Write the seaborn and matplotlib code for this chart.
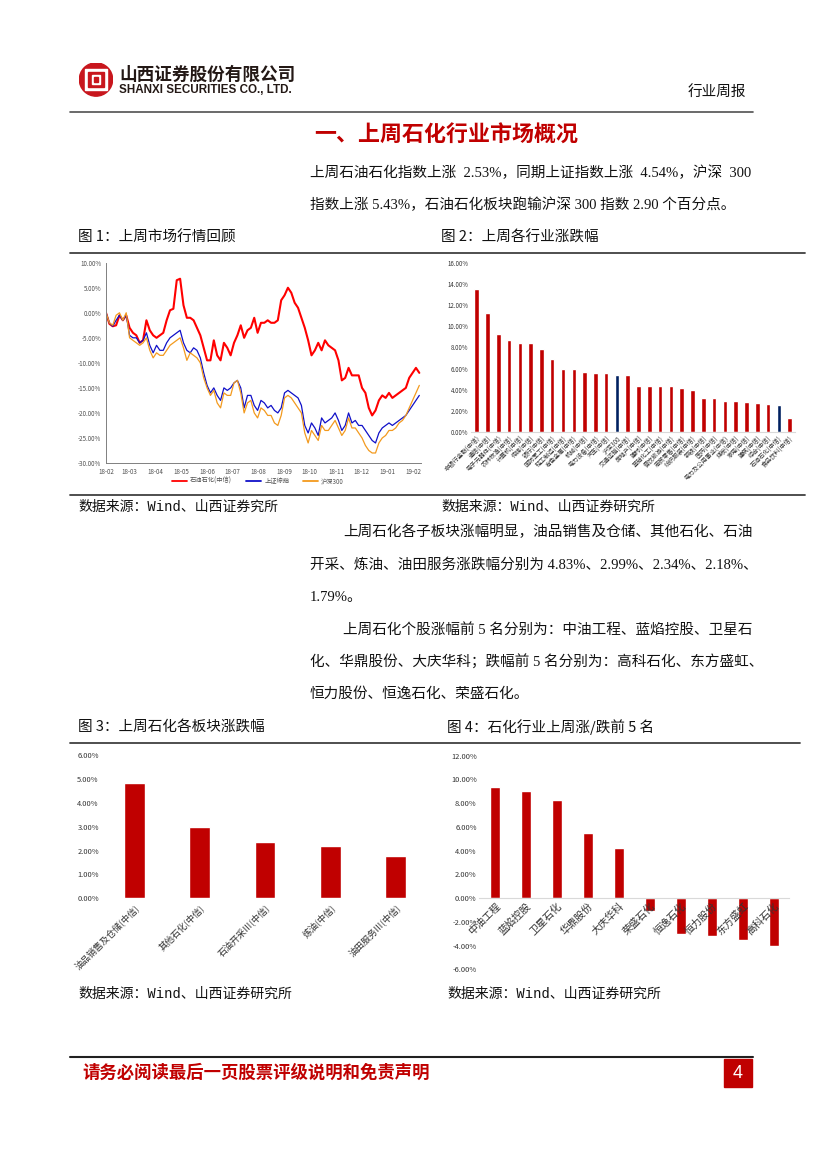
"""Shanxi Securities weekly report, page 4: petrochemical market overview."""
import numpy as np
import pandas as pd
import matplotlib
matplotlib.use("Agg")
import matplotlib.pyplot as plt
import matplotlib.dates as mdates
from matplotlib.ticker import FuncFormatter, MultipleLocator
from matplotlib.patches import Circle, Rectangle
from matplotlib.lines import Line2D
import seaborn as sns

# ---- figure 1: cumulative return since 2018-02 (%), sampled every 4 days
dates = pd.date_range("2018-02-01", periods=94, freq="4D")
petro = [0, -2.2, -2.7, -2.5, -0.5, -1.5, -0.5, -3, -4, -4.5,
         -6, -5.5, -1.5, -3.5, -4.5, -5, -4.5, -4, -1.5, 0.5,
         0.8, 6.5, 6.8, 1.5, -1, -1, -1.5, -3, -4.5, -7,
         -9.5, -9.5, -5.5, -8.5, -9.5, -6, -7, -8.5, -6, -4.5,
         -2.5, -5, -3.5, -3, -1, -4, -2, -2, -1.5, -2,
         -2, -1.5, 2.5, 3.5, 5, 4, 2, 1, -1, -3,
         -5.5, -8.5, -7.5, -6, -7.5, -5.5, -6.5, -7, -7.5, -9.5,
         -13.5, -13, -11, -12.5, -12.5, -12.5, -15, -16, -19, -20.5,
         -19.5, -17.5, -16.5, -17, -16, -17, -16.5, -16, -15.5, -15,
         -13, -12, -11, -12]
shci = [0, -2, -2.7, -1.5, -0.5, -1.5, -0.5, -4.5, -5, -5,
        -6, -5.5, -4, -6.5, -8, -6.5, -7.5, -7.5, -6, -5,
        -4.5, -4, -3.5, -6, -7.5, -8, -7, -7.5, -9, -12,
        -14.5, -16, -15, -16.5, -17.5, -15, -15.5, -15, -14, -13.5,
        -15, -19, -16.5, -16.5, -18.5, -19.5, -17.5, -18, -19, -18.5,
        -19.5, -20, -19, -16, -15.5, -16, -16.5, -17, -18.5, -22.5,
        -24, -22, -23, -24.5, -21, -22, -21.5, -21, -20, -21.5,
        -23.5, -22.5, -20, -22, -21.5, -22.5, -22.5, -23.5, -24.5, -25.5,
        -26, -24, -23, -22.5, -22, -22.5, -22, -21.5, -21, -20.5,
        -19.5, -18.5, -17.5, -16.5]
hs300 = [0, -2, -2.5, -0.5, 0, -1.5, 0, -5, -5.5, -6,
         -6.5, -6, -5, -7.5, -9, -8, -8.5, -8.5, -7.5, -6.5,
         -6, -5.5, -5, -7, -9.5, -8, -8.5, -9, -10, -13,
         -15, -16.5, -15.5, -18, -19, -16, -16.5, -16.5, -14, -13.5,
         -16, -20, -18, -17.5, -20, -21, -19, -19.5, -20.5, -20.5,
         -22, -22.5, -20.5, -17, -16.5, -17, -18, -19, -20, -24,
         -26, -23.5, -24.5, -25.5, -22.5, -23.5, -23.5, -22.5, -21.5, -23,
         -24.5, -23.5, -21, -23, -23, -24, -25, -26.5, -27.5, -28,
         -28, -26, -25, -24.5, -23.5, -23.5, -23, -22, -21.5, -20.5,
         -19, -17.5, -16, -14.5]
line_names = ["石油石化(中信)", "上证综指", "沪深300"]

# ---- figure 2: weekly change by CITIC industry (%)
ind_labels = ["非银行金融(中信)", "通信(中信)", "电子元器件(中信)", "农林牧渔(中信)",
              "计算机(中信)", "传媒(中信)", "银行(中信)", "国防军工(中信)",
              "轻工制造(中信)", "有色金属(中信)", "机械(中信)", "电力设备(中信)",
              "汽车(中信)", "沪深300", "交通运输(中信)", "房地产(中信)", "建材(中信)",
              "基础化工(中信)", "餐饮旅游(中信)", "商贸零售(中信)", "纺织服装(中信)",
              "钢铁(中信)", "医药(中信)", "电力及公用事业(中信)", "煤炭(中信)",
              "家电(中信)", "建筑(中信)", "综合(中信)", "石油石化(中信)", "食品饮料(中信)"]
ind_values = [13.53, 11.28, 9.28, 8.71, 8.43, 8.43, 7.86, 6.91, 5.96, 5.96,
              5.67, 5.58, 5.58, 5.43, 5.39, 4.34, 4.34, 4.31, 4.31, 4.15,
              3.96, 3.20, 3.20, 2.92, 2.92, 2.79, 2.72, 2.63, 2.53, 1.27]
highlight = ["沪深300", "石油石化(中信)"]

# ---- figure 3: petrochemical sub-sectors (%)
sub_labels = ["油品销售及仓储(中信)", "其他石化(中信)", "石油开采Ⅲ(中信)",
              "炼油(中信)", "油田服务Ⅲ(中信)"]
sub_values = [4.83, 2.99, 2.34, 2.18, 1.79]

# ---- figure 4: top 5 gainers / losers (%)
stock_labels = ["中油工程", "蓝焰控股", "卫星石化", "华鼎股份", "大庆华科",
                "荣盛石化", "恒逸石化", "恒力股份", "东方盛虹", "高科石化"]
stock_values = [9.36, 9.02, 8.26, 5.48, 4.22, -1.07, -3.03, -3.20, -3.54, -4.05]

W, H = 827, 1169
RED = "#C00000"
NAVY = "#002060"
CJK = ["Noto Sans CJK SC", "DejaVu Sans"]
SERIF = ["Liberation Serif", "Noto Sans CJK SC"]
MONO = ["Liberation Mono", "Noto Sans CJK SC"]


def box(x0, y0, x1, y1):
    return [x0 / W, 1 - y1 / H, (x1 - x0) / W, (y1 - y0) / H]


def txt(fig, x, y, s, **kw):
    kw.setdefault("va", "center")
    fig.text(x / W, 1 - y / H, s, **kw)


def hline(fig, y, x0, x1, color="#404040", lw=1.0):
    fig.add_artist(Line2D([x0 / W, x1 / W], [1 - y / H, 1 - y / H], color=color, lw=lw))


def pct(dec):
    return FuncFormatter(lambda v, _: f"{v:.{dec}f}%")


def bar_axes(ax):
    sns.despine(ax=ax, left=True, top=True, right=True)
    ax.spines["bottom"].set_color("#d9d9d9")
    ax.spines["bottom"].set_linewidth(0.8)
    ax.tick_params(axis="both", length=0, pad=2, colors="#333333")
    ax.set_xlabel("")
    ax.set_ylabel("")


def main():
    sns.set_theme(style="white")
    plt.rcParams["font.family"] = CJK
    plt.rcParams["axes.unicode_minus"] = False

    fig = plt.figure(figsize=(W / 100, H / 100), dpi=100)

    # ---- header
    lax = fig.add_axes(box(79, 62, 113, 97))
    lax.set_xlim(-1, 1); lax.set_ylim(-1, 1); lax.set_aspect("equal"); lax.axis("off")
    lax.add_patch(Circle((0, 0), 0.98, color="#C8161D"))
    lax.add_patch(Rectangle((-0.62, -0.62), 1.24, 1.24, color="white"))
    lax.add_patch(Rectangle((-0.46, -0.46), 0.92, 0.92, color="#C8161D"))
    lax.add_patch(Rectangle((-0.26, -0.26), 0.52, 0.52, color="white"))
    lax.add_patch(Rectangle((-0.12, -0.12), 0.24, 0.24, color="#C8161D"))
    txt(fig, 119, 75, "山西证券股份有限公司", fontsize=12.7, fontweight="bold", color="#231815")
    txt(fig, 119, 90, "SHANXI SECURITIES CO., LTD.", fontsize=8.4, fontweight="bold",
        color="#231815", family=["Liberation Sans"])
    txt(fig, 746, 92, "行业周报", fontsize=10.5, ha="right", fontweight="medium", color="#111111")
    hline(fig, 112, 70, 753, color="#505050", lw=1.2)

    txt(fig, 314, 135, "一、上周石化行业市场概况", fontsize=15.8, fontweight="bold", color=RED)
    body = dict(fontsize=10.5, color="#111111", family=SERIF)
    txt(fig, 310, 173, "上周石油石化指数上涨  2.53%，同期上证指数上涨  4.54%，沪深  300", **body)
    txt(fig, 310, 205, "指数上涨 5.43%，石油石化板块跑输沪深 300 指数 2.90 个百分点。", **body)

    cap = dict(fontsize=10.5, color="#111111")
    txt(fig, 78, 238, "图 1：上周市场行情回顾", **cap)
    txt(fig, 441, 238, "图 2：上周各行业涨跌幅", **cap)
    hline(fig, 253, 70, 805, lw=1.3)

    # ---- figure 1: line chart
    ax1 = fig.add_axes(box(106, 262.7, 421, 463))
    colors = ["#FF0000", "#1010C8", "#F39A1E"]
    widths = [1.5, 0.9, 0.9]
    for name, vals, c, lw in zip(line_names, [petro, shci, hs300], colors, widths):
        sns.lineplot(x=dates, y=vals, color=c, lw=lw, ax=ax1, label=name, legend=False)
    ax1.set_ylim(-30, 10)
    ax1.set_xlim(pd.Timestamp("2018-02-01"), pd.Timestamp("2019-02-10"))
    ax1.yaxis.set_major_locator(MultipleLocator(5))
    ax1.yaxis.set_major_formatter(pct(2))
    ax1.xaxis.set_major_locator(mdates.MonthLocator())
    ax1.xaxis.set_major_formatter(mdates.DateFormatter("%y-%m"))
    sns.despine(ax=ax1)
    for s in ("left", "bottom"):
        ax1.spines[s].set_color("#808080")
        ax1.spines[s].set_linewidth(0.7)
    ax1.tick_params(axis="both", labelsize=4.5, colors="#505050", length=2, width=0.5, pad=1.5)
    ax1.set_xlabel(""); ax1.set_ylabel("")
    fig.legend(handles=[Line2D([], [], color=c, lw=1.3) for c in colors], labels=line_names,
               loc="center", bbox_to_anchor=(258 / W, 1 - 481 / H), ncol=3, frameon=False,
               fontsize=4.5, handlelength=2.4, columnspacing=2.2, handletextpad=0.5,
               labelcolor="#505050")

    # ---- figure 2: industry bars
    ax2 = fig.add_axes(box(471.3, 263.3, 795, 431.7))
    pal2 = [NAVY if lab in highlight else RED for lab in ind_labels]
    sns.barplot(x=ind_labels, y=ind_values, hue=ind_labels, palette=pal2, legend=False,
                width=0.42, saturation=1, ax=ax2)
    ax2.set_xlim(-0.5, len(ind_labels) - 0.5)
    ax2.set_ylim(0, 16)
    ax2.yaxis.set_major_locator(MultipleLocator(2))
    ax2.yaxis.set_major_formatter(pct(2))
    bar_axes(ax2)
    ax2.tick_params(axis="both", labelsize=4.4)
    for lab in ax2.get_xticklabels():
        lab.set_rotation(45); lab.set_ha("right"); lab.set_rotation_mode("anchor")

    src = dict(fontsize=10, color="#111111", family=MONO)
    hline(fig, 495, 70, 805, lw=1.3)
    txt(fig, 78, 507, "数据来源：Wind、山西证券究所", **src)
    txt(fig, 441, 507, "数据来源：Wind、山西证券研究所", **src)

    txt(fig, 343, 532, "上周石化各子板块涨幅明显，油品销售及仓储、其他石化、石油", **body)
    txt(fig, 310, 565, "开采、炼油、油田服务涨跌幅分别为 4.83%、2.99%、2.34%、2.18%、", **body)
    txt(fig, 310, 597, "1.79%。", **body)
    txt(fig, 343, 630, "上周石化个股涨幅前 5 名分别为：中油工程、蓝焰控股、卫星石", **body)
    txt(fig, 310, 662, "化、华鼎股份、大庆华科；跌幅前 5 名分别为：高科石化、东方盛虹、", **body)
    txt(fig, 310, 694, "恒力股份、恒逸石化、荣盛石化。", **body)

    txt(fig, 78, 727, "图 3：上周石化各板块涨跌幅", **cap)
    txt(fig, 447, 727, "图 4：石化行业上周涨/跌前 5 名", **cap)
    hline(fig, 743, 70, 800, lw=1.3)

    # ---- figure 3: sub-sector bars
    ax3 = fig.add_axes(box(101.6, 755, 428.4, 898.3))
    sns.barplot(x=sub_labels, y=sub_values, color=RED, width=0.32, saturation=1, ax=ax3)
    ax3.set_xlim(-0.5, len(sub_labels) - 0.5)
    ax3.set_ylim(0, 6)
    ax3.yaxis.set_major_locator(MultipleLocator(1))
    ax3.yaxis.set_major_formatter(pct(2))
    bar_axes(ax3)
    ax3.spines["bottom"].set_visible(False)
    ax3.tick_params(axis="y", labelsize=5.4)
    ax3.tick_params(axis="x", labelsize=6.5, pad=3)
    for lab in ax3.get_xticklabels():
        lab.set_rotation(45); lab.set_ha("right"); lab.set_rotation_mode("anchor")

    # ---- figure 4: stock bars (labels sit on the zero line, over the bars)
    ax4 = fig.add_axes(box(479.5, 755.7, 789.5, 969.3))
    sns.barplot(x=stock_labels, y=stock_values, color=RED, width=0.32, saturation=1, ax=ax4)
    ax4.set_xlim(-0.5, len(stock_labels) - 0.5)
    ax4.set_ylim(-6, 12)
    ax4.yaxis.set_major_locator(MultipleLocator(2))
    ax4.yaxis.set_major_formatter(pct(2))
    bar_axes(ax4)
    ax4.set_axisbelow(False)
    ax4.spines["bottom"].set_position(("data", 0))
    ax4.tick_params(axis="y", labelsize=5.4)
    ax4.tick_params(axis="x", labelsize=7.3, pad=2)
    for lab in ax4.get_xticklabels():
        lab.set_rotation(45); lab.set_ha("right"); lab.set_rotation_mode("anchor")

    txt(fig, 78, 994, "数据来源：Wind、山西证券研究所", **src)
    txt(fig, 447, 994, "数据来源：Wind、山西证券研究所", **src)

    # ---- footer
    hline(fig, 1057, 70, 753, color="#202020", lw=1.5)
    txt(fig, 82, 1073, "请务必阅读最后一页股票评级说明和免责声明", fontsize=12.5,
        fontweight="bold", color=RED)
    fig.add_artist(Rectangle((724 / W, 1 - 1087 / H), 28 / W, 28 / H, color=RED,
                             transform=fig.transFigure))
    txt(fig, 738, 1073, "4", fontsize=13, color="white", ha="center",
        family=["Liberation Sans"])

    fig.savefig("out.png", dpi=100)
    plt.close(fig)


if __name__ == "__main__":
    main()
